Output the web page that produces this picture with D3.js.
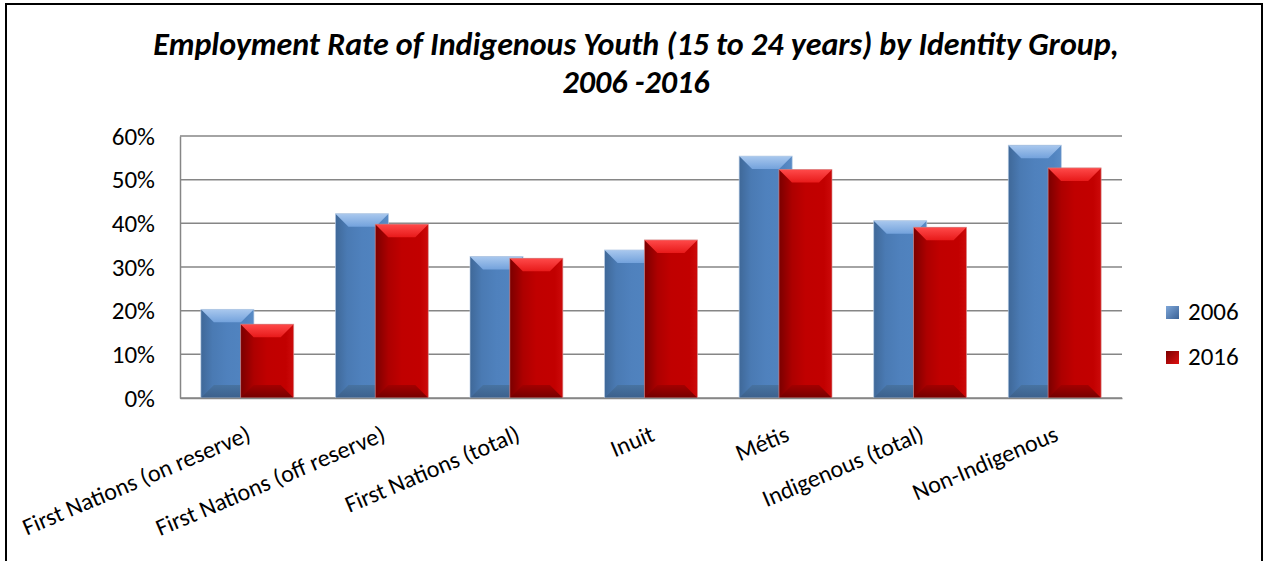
<!DOCTYPE html>
<html>
<head>
<meta charset="utf-8">
<script src="https://cdn.jsdelivr.net/npm/d3@7"></script>
<style>
  body { margin: 0; background: #fff; }
  svg { display: block; font-family: Carlito, Calibri, Lato, sans-serif; }
</style>
</head>
<body>
<div id="chart"></div>
<script>
// Data
var categories = ["First Nations (on reserve)", "First Nations (off reserve)", "First Nations (total)",
    "Inuit", "Métis", "Indigenous (total)", "Non-Indigenous"];
var values2006 = [0.203, 0.422, 0.324, 0.339, 0.554, 0.406, 0.579];
var values2016 = [0.169, 0.398, 0.320, 0.362, 0.523, 0.391, 0.527];
var seriesNames = ["2006", "2016"];
var yTicks = [0, 0.1, 0.2, 0.3, 0.4, 0.5, 0.6];
var titleLines = ["Employment Rate of Indigenous Youth (15 to 24 years) by Identity Group,", "2006 -2016"];

var W = 1266, H = 561;
var plot = {left: 180, right: 1122, top: 136, bottom: 398};

var svg = d3.select("#chart").append("svg")
    .attr("width", W)
    .attr("height", H);

// outer frame
svg.append("rect")
    .attr("x", 6).attr("y", 4)
    .attr("width", 1256).attr("height", 600)
    .attr("fill", "#fff")
    .attr("stroke", "#000")
    .attr("stroke-width", 2);

// gradients for bevel look
var defs = svg.append("defs");
function hGrad(id, stops) {
    var g = defs.append("linearGradient").attr("id", id)
        .attr("x1", "0").attr("x2", "1").attr("y1", "0").attr("y2", "0");
    stops.forEach(s => g.append("stop").attr("offset", s[0]).attr("stop-color", s[1]));
}
function vGrad(id, stops) {
    var g = defs.append("linearGradient").attr("id", id)
        .attr("x1", "0").attr("x2", "0").attr("y1", "0").attr("y2", "1");
    stops.forEach(s => g.append("stop").attr("offset", s[0]).attr("stop-color", s[1]));
}
hGrad("bodyBlue", [[0, "#3f6898"], [0.22, "#4a7ab3"], [0.5, "#4f81bd"], [0.85, "#5184c0"], [1, "#5a8cc6"]]);
hGrad("bodyRed", [[0, "#7a0000"], [0.25, "#ad0000"], [0.5, "#c00000"], [0.85, "#c20000"], [1, "#cc0a0a"]]);
vGrad("topBlue", [[0, "#a9c8ee"], [1, "#73a2dc"]]);
vGrad("topRed", [[0, "#ff4a4a"], [1, "#e81a1a"]]);
vGrad("botBlue", [[0, "#47729f"], [1, "#3a5d87"]]);
vGrad("botRed", [[0, "#a00000"], [1, "#6e0000"]]);
var legGrad = defs.append("linearGradient").attr("id", "legBlue")
    .attr("x1", "0").attr("y1", "0").attr("x2", "1").attr("y2", "1");
legGrad.append("stop").attr("offset", 0).attr("stop-color", "#7ea6d8");
legGrad.append("stop").attr("offset", 1).attr("stop-color", "#3a6296");
var legGrad2 = defs.append("linearGradient").attr("id", "legRed")
    .attr("x1", "0").attr("y1", "0").attr("x2", "1").attr("y2", "1");
legGrad2.append("stop").attr("offset", 0).attr("stop-color", "#7a0000");
legGrad2.append("stop").attr("offset", 1).attr("stop-color", "#e01010");

var styles = [
    {body: "url(#bodyBlue)", top: "url(#topBlue)", bot: "url(#botBlue)", leg: "url(#legBlue)"},
    {body: "url(#bodyRed)", top: "url(#topRed)", bot: "url(#botRed)", leg: "url(#legRed)"}
];

// Title
svg.append("g").selectAll("text")
    .data(titleLines)
    .join("text")
    .attr("x", 636)
    .attr("y", (d, i) => 55 + i * 38)
    .attr("text-anchor", "middle")
    .attr("font-size", "32px")
    .attr("font-weight", "bold")
    .attr("font-style", "italic")
    .attr("fill", "#000")
    .text(d => d);

// Scales
var x0 = d3.scaleBand()
    .domain(categories)
    .range([plot.left, plot.right])
    .padding(0);

var y = d3.scaleLinear()
    .domain([0, 0.6])
    .range([plot.bottom, plot.top]);

// Gridlines
svg.append("g").selectAll("line")
    .data(yTicks)
    .join("line")
    .attr("x1", plot.left).attr("x2", plot.right)
    .attr("y1", d => y(d)).attr("y2", d => y(d))
    .attr("stroke", "#868686")
    .attr("stroke-width", 1.5);

// Y axis
var yAxis = svg.append("g")
    .attr("transform", `translate(${plot.left},0)`)
    .call(d3.axisLeft(y).tickValues(yTicks).tickFormat(d3.format(".0%")).tickSize(0).tickPadding(25));
yAxis.select(".domain").attr("stroke", "#868686").attr("stroke-width", 1.5);
yAxis.selectAll("text")
    .attr("font-size", "25px")
    .attr("font-family", "Carlito, Calibri, Lato, sans-serif")
    .attr("fill", "#000");

// Bars
var groupW = x0.step() * 0.69;
var barW = groupW / 1.75;
var bev = 13;
var series = [values2006, values2016];

series.forEach(function(vals, s) {
    var g = svg.append("g").attr("class", "series" + s);
    var bars = g.selectAll("g")
        .data(categories.map((c, i) => ({cat: c, v: vals[i]})))
        .join("g")
        .attr("transform", function(d) {
            var cx = x0(d.cat) + x0.step() / 2;
            var bx = s === 0 ? cx - groupW / 2 : cx + groupW / 2 - barW;
            return `translate(${bx},0)`;
        });
    bars.append("rect")
        .attr("x", 0)
        .attr("y", d => y(d.v))
        .attr("width", barW)
        .attr("height", d => y(0) - y(d.v))
        .attr("fill", styles[s].body);
    bars.append("path")
        .attr("d", function(d) {
            var t = y(d.v);
            return `M0,${t}L${barW},${t}L${barW - bev},${t + bev}L${bev},${t + bev}Z`;
        })
        .attr("fill", styles[s].top);
    bars.append("path")
        .attr("d", function(d) {
            var b = y(0);
            return `M0,${b}L${bev},${b - bev}L${barW - bev},${b - bev}L${barW},${b}Z`;
        })
        .attr("fill", styles[s].bot)
        .attr("opacity", 0.9);
    bars.append("rect")
        .attr("x", 0)
        .attr("y", d => y(d.v))
        .attr("width", barW)
        .attr("height", d => y(0) - y(d.v))
        .attr("fill", "none")
        .attr("stroke", s === 0 ? "#b9cde5" : "#d89090")
        .attr("stroke-width", 0.8)
        .attr("stroke-opacity", 0.8);
});

// X axis
var xAxis = svg.append("g")
    .attr("transform", `translate(0,${plot.bottom})`)
    .call(d3.axisBottom(x0).tickSize(0).tickPadding(0));
xAxis.select(".domain").attr("stroke", "#868686").attr("stroke-width", 1.5);
xAxis.selectAll("text")
    .attr("font-size", "24px")
    .attr("font-family", "Carlito, Calibri, Lato, sans-serif")
    .attr("fill", "#000")
    .attr("text-anchor", "end")
    .attr("dy", 0)
    .attr("y", 0)
    .attr("transform", "translate(5,42) rotate(-23)");

// Legend
var legend = svg.append("g").selectAll("g")
    .data(seriesNames)
    .join("g")
    .attr("transform", (d, i) => `translate(1166,${306 + i * 45})`);
legend.append("rect")
    .attr("width", 13).attr("height", 13)
    .attr("fill", (d, i) => styles[i].leg);
legend.append("text")
    .attr("x", 22)
    .attr("y", 14)
    .attr("font-size", "25px")
    .attr("fill", "#000")
    .text(d => d);
</script>
</body>
</html>
